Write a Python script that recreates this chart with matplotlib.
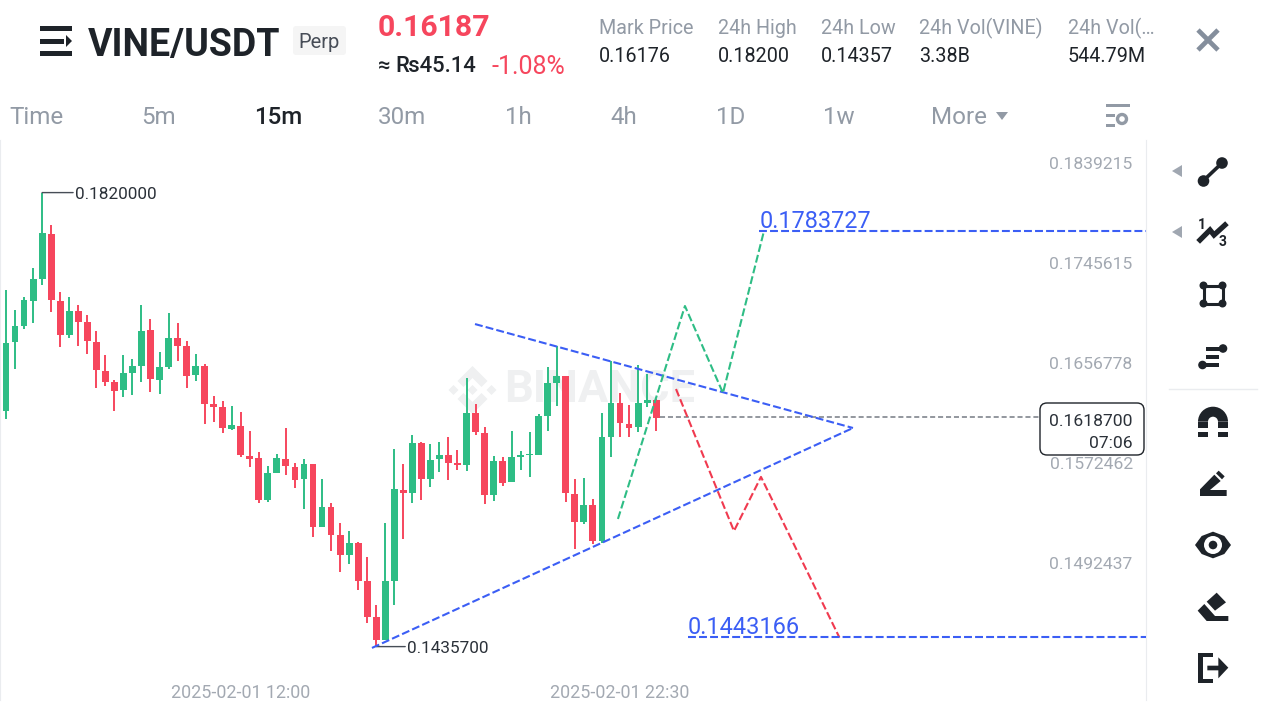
import matplotlib
matplotlib.use('Agg')
import matplotlib.pyplot as plt
from matplotlib.patches import Circle, FancyBboxPatch, Polygon, Rectangle, Wedge

plt.rcParams['font.family'] = ['Roboto', 'DejaVu Sans']

GREEN = '#2ebd85'
RED = '#f6465d'
BLUE = '#3b5ef5'
DARK = '#1e2329'
GREY = '#929aa5'
DASH = (0, (3.8, 1.5))

# candles
opens = [.16240, .16834, .16977, .17201, .17400, .17811, .17201, .16895, .17108, .17010,
         .16836, .16583, .16487, .16413, .16566, .16624, .16939, .16502, .16618, .16871,
         .16798, .16543, .16627, .16297, .16271, .16085, .16111, .15863, .15841, .15498,
         .15722, .15838, .15766, .15670, .15794, .15286, .15443, .15222, .15061, .15158,
         .14857, .14581, .14407, .14857, .15581, .15559, .15971, .15668, .15838, .15866,
         .15800, .15788, .16220, .16049, .15540, .15819, .15643, .15855, .15866, .15868,
         .16198, .16476, .16537, .15551, .15325, .15457, .15173, .16021, .16303, .16130,
         .16100, .16305, .16331]
highs = [.17297, .17117, .17237, .17497, .18200, .17894, .17279, .17237, .17162, .17072,
         .16930, .16722, .16502, .16719, .16685, .17159, .17040, .16743, .17093, .17004,
         .16840, .16726, .16641, .16362, .16322, .16277, .16227, .16069, .15896, .15777,
         .15879, .16091, .15800, .15833, .15794, .15668, .15473, .15313, .15251, .15161,
         .15045, .14675, .15313, .15918, .15791, .16035, .15979, .15957, .15979, .16016,
         .15910, .16517, .16294, .16105, .15863, .15852, .16071, .15904, .16058, .16212,
         .16618, .16800, .16537, .15668, .15676, .15506, .16223, .16667, .16388, .16288,
         .16632, .16554, .16337]
lows = [.16169, .16598, .16948, .17001, .17342, .17102, .16792, .16871, .16801, .16728,
        .16436, .16450, .16240, .16359, .16373, .16482, .16399, .16384, .16600, .16667,
        .16436, .16496, .16130, .16144, .16054, .16077, .15855, .15771, .15476, .15481,
        .15722, .15701, .15595, .15427, .15206, .15286, .15095, .14930, .14990, .14790,
        .14535, .14357, .14407, .14670, .15185, .15472, .15502, .15606, .15725, .15662,
        .15742, .15738, .16033, .15470, .15492, .15613, .15643, .15742, .15684, .15866,
        .16069, .16282, .15484, .15108, .15305, .15147, .15155, .15849, .16018, .16021,
        .16060, .16274, .16071]
closes = [.16828, .16975, .17207, .17397, .17823, .17207, .16898, .17108, .17010, .16842,
          .16589, .16487, .16410, .16563, .16627, .16933, .16511, .16615, .16869, .16798,
          .16540, .16624, .16300, .16274, .16091, .16116, .15866, .15838, .15500, .15717,
          .15841, .15777, .15664, .15794, .15286, .15441, .15217, .15058, .15155, .14860,
          .14581, .14407, .14855, .15587, .15559, .15971, .15668, .15827, .15866, .15805,
          .15786, .16223, .16060, .15538, .15821, .15640, .15852, .15871, .15879, .16199,
          .16473, .16540, .15554, .15325, .15457, .15173, .16021, .16305, .16133, .16094,
          .16303, .16331, .16178]

price_ticks = [0.1839215, 0.1745615, 0.1656778, 0.1572462, 0.1492437]
time_ticks = [26, 68]
time_labels = ['2025-02-01 12:00', '2025-02-01 22:30']

last_price = 0.16187
high_level = 0.1783727
low_level = 0.1443166

# hand drawn lines on the chart (candle index, price)
upper_x, upper_y = [51.94, 93.8], [.16992, .16094]
lower_x, lower_y = [40.53, 93.8], [.14347, .16094]
bull_x, bull_y = [67.77, 75.19, 79.4, 83.94], [.15347, .17153, .16391, .17837]
bear_x, bear_y = [74.2, 80.62, 83.61, 92.3], [.16425, .15251, .15688, .14425]

fig = plt.figure(figsize=(12.8, 7.2), dpi=100, facecolor='white')

# pixel canvas for header, toolbar and watermark
ui = fig.add_axes([0, 0, 1, 1], zorder=0)
ui.set_xlim(0, 1280)
ui.set_ylim(720, 0)
ui.axis('off')

ax = fig.add_axes([0, 20 / 720, 1146 / 1280, 560 / 720], zorder=1)
ax.patch.set_alpha(0)
ax.set_yscale('log')
ax.set_xlim(-0.664, 126.25)
ax.set_ylim(0.13962, 0.18707)
ax.minorticks_off()

for s in ['top', 'bottom']:
    ax.spines[s].set_visible(False)
for s in ['left', 'right']:
    ax.spines[s].set_color('#eaecef')

idx = list(range(len(opens)))
colors = [GREEN if c >= o else RED for o, c in zip(opens, closes)]
ax.vlines(idx, lows, highs, colors=colors, lw=1.4, zorder=2)
ax.bar(idx, [abs(c - o) for o, c in zip(opens, closes)],
       bottom=[min(o, c) for o, c in zip(opens, closes)],
       width=0.76, color=colors, zorder=3)

# drawings
ax.plot(upper_x, upper_y, color=BLUE, lw=1.5, ls=DASH, zorder=4)
ax.plot(lower_x, lower_y, color=BLUE, lw=1.5, ls=DASH, zorder=4)
ax.plot(bull_x, bull_y, color=GREEN, lw=1.5, ls=DASH, zorder=4)
ax.plot(bear_x, bear_y, color='#f03a4f', lw=1.5, ls=DASH, zorder=4)
ax.plot([83.4, 126.25], [high_level, high_level], color=BLUE, lw=1.5, ls=DASH, zorder=4)
ax.plot([75.5, 126.25], [low_level, low_level], color=BLUE, lw=1.5, ls=DASH, zorder=4)
ax.plot([72.4, 114.5], [last_price, last_price], color='#8a8f96', lw=1.3, ls=(0, (2.8, 1.6)), zorder=1)
ax.annotate(f'{high_level:.7f}', xy=(83.5, high_level), xytext=(0, -2), textcoords='offset pixels',
            color=BLUE, fontsize=16.9, va='bottom', ha='left')
ax.annotate(f'{low_level:.7f}', xy=(75.5, low_level), xytext=(0, -2), textcoords='offset pixels',
            color=BLUE, fontsize=16.9, va='bottom', ha='left')

# high / low callouts
for x, price, gap, txt_gap, label in [(4, 0.182, 31, 33, '0.1820000'), (41, 0.14357, 29, 31, '0.1435700')]:
    ax.annotate('', xy=(x, price), xytext=(gap, 0), textcoords='offset pixels',
                arrowprops=dict(arrowstyle='-', color='#474d57', lw=1, shrinkA=0, shrinkB=0))
    ax.annotate(label, xy=(x, price), xytext=(txt_gap, -2), textcoords='offset pixels',
                color='#2b3139', fontsize=12.3, va='center', ha='left')

# axis labels sit above their tick position
ax.yaxis.tick_right()
ax.set_yticks(price_ticks, [f'{p:.7f}' for p in price_ticks])
ax.tick_params(axis='y', length=0, pad=-9.6, labelsize=12.6, labelcolor='#a3a9b2')
for lab in ax.get_yticklabels():
    lab.set_horizontalalignment('right')
    lab.set_verticalalignment('bottom')
ax.set_xticks(time_ticks, time_labels)
ax.tick_params(axis='x', length=0, pad=-11.5, labelsize=12.9, labelcolor='#a3a9b2')

# current price box
ui.add_patch(FancyBboxPatch((1044, 407), 96, 44, boxstyle='round,pad=4,rounding_size=7',
                            fc='white', ec='#1e2329', lw=1))
ui.text(1133, 421, '0.1618700', ha='right', va='center', fontsize=12.6, color='#2b3139')
ui.text(1133, 443.5, '07:06', ha='right', va='center', fontsize=12.6, color='#2b3139')

# watermark
WM = '#eff0f1'
wx, wy = 472.5, 390
ui.text(600, 390, 'BINANCE', ha='center', va='center', fontsize=32.5, weight='bold', color=WM)
for dx in (-19, 0, 19):
    ui.add_patch(Polygon([(wx + dx, wy - 5), (wx + dx + 5, wy), (wx + dx, wy + 5), (wx + dx - 5, wy)], fc=WM))
for sgn in (-1, 1):
    ui.add_patch(Polygon([(wx, wy + sgn * 24), (wx + 15, wy + sgn * 9), (wx + 9, wy + sgn * 3),
                          (wx, wy + sgn * 12), (wx - 9, wy + sgn * 3), (wx - 15, wy + sgn * 9)], fc=WM))

# header
ui.add_patch(Rectangle((40, 26), 32, 5, fc=DARK))
ui.add_patch(Rectangle((40, 38.5), 24, 5, fc=DARK))
ui.add_patch(Polygon([(66, 35), (72, 41), (66, 47)], fc=DARK))
ui.add_patch(Rectangle((40, 51), 32, 5, fc=DARK))
ui.text(88, 45, 'VINE/USDT', fontsize=27, weight='bold', color=DARK, va='center', ha='left')
ui.add_patch(FancyBboxPatch((295, 28), 49, 25, boxstyle='round,pad=2,rounding_size=3', fc='#f5f5f5', ec='none'))
ui.text(319.5, 43, 'Perp', fontsize=14.5, color='#474d57', va='center', ha='center')
ui.text(378, 27.5, '0.16187', fontsize=21.8, weight='bold', color=RED, va='center', ha='left')
ui.text(378, 67, '≈ ₨45.14', fontsize=15.8, weight='medium', color=DARK, va='center', ha='left')
ui.text(491, 67, '-1.08%', fontsize=18, color=RED, va='center', ha='left')

stat_x = [599, 718, 821, 919, 1068]
stat_names = ['Mark Price', '24h High', '24h Low', '24h Vol(VINE)', '24h Vol(…']
stat_values = ['0.16176', '0.18200', '0.14357', '3.38B', '544.79M']
for x, n, v in zip(stat_x, stat_names, stat_values):
    ui.text(x, 28, n, fontsize=14.2, color=GREY, va='center', ha='left')
    ui.text(x, 56.5, v, fontsize=14.2, color=DARK, va='center', ha='left')
ui.plot([1198, 1218], [30, 50], color='#848e9c', lw=3.4, solid_capstyle='butt')
ui.plot([1198, 1218], [50, 30], color='#848e9c', lw=3.4, solid_capstyle='butt')

# interval tabs
tab_x = [37, 159, 278, 402, 518, 624, 731, 839, 959]
tab_names = ['Time', '5m', '15m', '30m', '1h', '4h', '1D', '1w', 'More']
for x, n in zip(tab_x, tab_names):
    active = n == '15m'
    ui.text(x, 118, n, fontsize=17.4, color=DARK if active else GREY, va='center', ha='center',
            weight='medium' if active else 'normal')
ui.add_patch(Polygon([(996, 112), (1008, 112), (1002, 120)], fc=GREY))
ui.add_patch(Rectangle((1106, 104), 24, 3, fc=GREY))
ui.add_patch(Rectangle((1106, 114), 9, 3, fc=GREY))
ui.add_patch(Rectangle((1106, 124), 9, 3, fc=GREY))
ui.add_patch(Circle((1122, 119), 4.5, fc='none', ec=GREY, lw=2.4))

# right toolbar
ui.add_patch(Polygon([(1172, 171), (1182, 165), (1182, 177)], fc='#a0a7b1'))
ui.add_patch(Polygon([(1172, 232), (1182, 226), (1182, 238)], fc='#a0a7b1'))
ui.plot([1203, 1222], [181, 163], color=DARK, lw=2.6)
ui.add_patch(Circle((1203.5, 181), 5.8, fc=DARK))
ui.add_patch(Circle((1222, 163), 5.8, fc=DARK))

ui.plot([1200, 1210, 1214, 1225], [240, 230, 235, 225], color=DARK, lw=3.8, solid_joinstyle='miter')
ui.text(1202, 225, '1', fontsize=10, weight='bold', color=DARK, ha='center', va='center')
ui.text(1223, 242, '3', fontsize=10, weight='bold', color=DARK, ha='center', va='center')

ui.add_patch(Rectangle((1203.5, 285.5), 19, 18, fc='none', ec=DARK, lw=2.2))
for cx, cy in [(1203.5, 285.5), (1222.5, 285.5), (1203.5, 303.5), (1222.5, 303.5)]:
    ui.add_patch(Circle((cx, cy), 4, fc=DARK))

ui.add_patch(Rectangle((1206, 346.5), 16, 4, fc=DARK))
ui.add_patch(Circle((1223, 348.5), 4.3, fc=DARK))
ui.add_patch(Rectangle((1206, 355), 13, 4, fc=DARK))
ui.add_patch(Rectangle((1206, 363), 13, 4, fc=DARK))
ui.add_patch(Circle((1202.5, 365), 4.3, fc=DARK))

ui.plot([1169, 1257], [389, 389], color='#eaecef', lw=1)

ui.add_patch(Wedge((1213, 421.7), 15, 180, 360, width=10, fc=DARK))
ui.add_patch(Rectangle((1198, 421.7), 10, 6.5, fc=DARK))
ui.add_patch(Rectangle((1218, 421.7), 10, 6.5, fc=DARK))
ui.add_patch(Rectangle((1198, 431.7), 10, 5, fc=DARK))
ui.add_patch(Rectangle((1218, 431.7), 10, 5, fc=DARK))

ox, oy = 1150, 400


def tool_poly(pts):
    # points measured on a 3x crop of the toolbar
    ui.add_patch(Polygon([(ox + a / 3, oy + b / 3) for a, b in pts], fc=DARK))


tool_poly([(150, 268), (193, 224), (212, 243), (180, 270), (230, 270), (230, 288), (150, 288)])
tool_poly([(198, 220), (206, 212), (224, 229), (216, 238)])
tool_poly([(135, 435), (155, 408), (189, 395), (223, 408), (243, 435), (223, 462), (189, 475), (155, 462)])
ui.add_patch(Circle((1213, 545), 9, fc='white'))
ui.add_patch(Circle((1213, 545), 4.3, fc=DARK))
tool_poly([(200, 578), (228, 607), (195, 632), (170, 605)])
tool_poly([(143, 632), (163, 612), (195, 648), (235, 648), (235, 663), (170, 663)])
tool_poly([(145, 759), (188, 759), (188, 772), (160, 772), (160, 836), (188, 836), (188, 850), (145, 850)])
tool_poly([(172, 797), (205, 797), (205, 772), (235, 803), (205, 835), (205, 811), (172, 811)])

fig.savefig('out.png', dpi=100)
